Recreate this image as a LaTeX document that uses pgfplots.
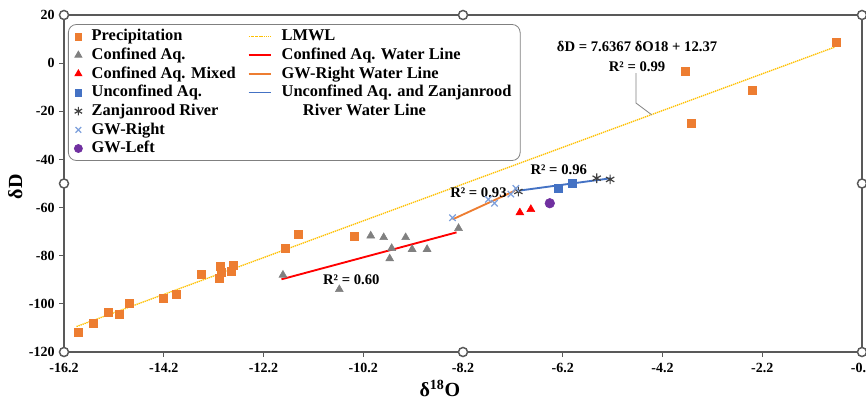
\documentclass[border=0pt]{standalone}
\usepackage{pgfplots}
\pgfplotsset{compat=1.18}
\usepackage{fontspec}
\setmainfont{Liberation Serif}

\definecolor{cPrec}{HTML}{ED7D31}
\definecolor{cConf}{HTML}{808080}
\definecolor{cMix}{HTML}{FF0000}
\definecolor{cUnc}{HTML}{4472C4}
\definecolor{cRiv}{HTML}{404040}
\definecolor{cGWR}{HTML}{7DA0DC}
\definecolor{cGWL}{HTML}{7030A0}
\definecolor{cLMWL}{HTML}{FFC000}
\definecolor{cAxis}{HTML}{595959}

\begin{document}
\begin{tikzpicture}[font=\bfseries]
  \begin{axis}[
      at={(0,0)}, anchor=south west,
      scale only axis,
      width=598.5pt, height=252.75pt,
      xmin=-16.2, xmax=-0.2, ymin=-120, ymax=20,
      xtick={-16.2,-14.2,-12.2,-10.2,-8.2,-6.2,-4.2,-2.2,-0.2},
      xticklabels={-16.2,-14.2,-12.2,-10.2,-8.2,-6.2,-4.2,-2.2,-0.2},
      ytick={-120,-100,-80,-60,-40,-20,0,20},
      yticklabels={-120,-100,-80,-60,-40,-20,0,20},
      tick align=outside, tick pos=left,
      major tick length=3.5pt,
      axis line style={draw=cAxis, line width=1.4pt},
      tick style={draw=cAxis, line width=0.8pt},
      ticklabel style={font=\bfseries\fontsize{10.5}{12}\selectfont},
      xticklabel style={yshift=-1.5pt},
      clip=false,
      xlabel={δ\textsuperscript{18}O},
      ylabel={δD},
      every axis x label/.style={at={(axis description cs:0.471,-0.107)}, anchor=center,
        font=\bfseries\fontsize{15}{17}\selectfont},
      every axis y label/.style={at={(axis description cs:-0.061,0.49)}, rotate=90, anchor=center,
        font=\bfseries\fontsize{15}{17}\selectfont},
      legend columns=2,
      legend cell align=left,
      legend style={
        at={(rel axis cs:0.005,0.973)}, anchor=north west,
        draw=gray, line width=0.6pt, rounded corners=6pt,
        font=\bfseries\fontsize{12.3}{14}\selectfont,
        inner xsep=4.5pt,
        row sep=0pt,
        nodes={inner ysep=1.2pt, text height=9pt, text depth=2.6pt},
        /tikz/every odd column/.append style={column sep=5pt},
        /tikz/every even column/.append style={column sep=7pt}
      },
    ]
    % precipitation
    \addplot[only marks, mark=square*, mark size=3pt, color=cPrec, forget plot] coordinates {
      (-15.91,-111.7) (-15.62,-108.2) (-15.32,-103.5) (-15.10,-104.5) (-14.89,-99.6)
      (-14.21,-97.7) (-13.94,-96.0) (-13.44,-87.6) (-13.07,-84.2) (-13.04,-86.9)
      (-13.08,-89.4) (-12.81,-83.9) (-12.85,-86.4) (-11.77,-76.9) (-11.50,-71.0)
      (-10.39,-71.9) (-3.74,-3.5) (-3.62,-25.0) (-2.41,-11.4) (-0.71,8.5)
    };
    % confined aquifer
    \addplot[only marks, mark=triangle*, mark size=3.4pt, color=cConf, forget plot] coordinates {
      (-11.81,-88.0) (-10.68,-94.0) (-10.05,-71.7) (-9.79,-72.4) (-9.35,-72.4)
      (-9.63,-76.9) (-9.67,-81.2) (-9.22,-77.3) (-8.92,-77.3) (-8.29,-68.6)
    };
    % confined aquifer mixed
    \addplot[only marks, mark=triangle*, mark size=3.4pt, color=cMix, forget plot] coordinates {
      (-7.06,-62.1) (-6.84,-60.7)
    };
    % unconfined aquifer
    \addplot[only marks, mark=square*, mark size=3pt, color=cUnc, forget plot] coordinates {
      (-6.29,-52.0) (-6.01,-49.9)
    };
    % Zanjanrood river
    \addplot[only marks, mark=asterisk, mark size=3.6pt, line width=0.9pt, color=cRiv, forget plot] coordinates {
      (-7.09,-53.3) (-5.52,-47.8) (-5.25,-48.3)
    };
    % GW-Right
    \addplot[only marks, mark=x, mark size=3.4pt, line width=0.9pt, color=cGWR, forget plot] coordinates {
      (-8.41,-64.2) (-7.69,-56.6) (-7.57,-58.2) (-7.24,-54.4) (-7.14,-52.0)
    };
    % GW-Left
    \addplot[only marks, mark=*, mark size=3.6pt, color=cGWL, forget plot] coordinates {
      (-6.46,-58.2)
    };
    % water lines
    \addplot[cLMWL, line width=1pt, dash pattern=on 1pt off 0.6pt, forget plot] coordinates {
      (-15.95,-109.43) (-0.74,6.72)
    };
    \addplot[cMix, line width=1.4pt, forget plot] coordinates {
      (-11.84,-89.8) (-8.33,-70.3)
    };
    \addplot[cPrec, line width=1.4pt, forget plot] coordinates {
      (-8.41,-64.9) (-7.16,-53.0)
    };
    \addplot[cUnc, line width=1.4pt, forget plot] coordinates {
      (-7.09,-53.0) (-5.23,-47.8)
    };
    % selection handles
    \addplot[only marks, mark=*, mark size=3.4pt, mark options={fill=white, draw=cAxis, line width=1.1pt}, forget plot] coordinates {
      (-16.2,20) (-8.2,20) (-0.2,20) (-16.2,-50) (-0.2,-50) (-16.2,-120) (-8.2,-120) (-0.2,-120)
    };

    % legend, filled row by row
    \addlegendimage{only marks, mark=square*, mark size=2.6pt, color=cPrec}
    \addlegendentry{Precipitation}
    \addlegendimage{cLMWL, line width=1pt, dash pattern=on 1pt off 0.6pt}
    \addlegendentry{LMWL}
    \addlegendimage{only marks, mark=triangle*, mark size=3pt, color=cConf}
    \addlegendentry{Confined Aq.}
    \addlegendimage{cMix, line width=1.4pt}
    \addlegendentry{Confined Aq. Water Line}
    \addlegendimage{only marks, mark=triangle*, mark size=3pt, color=cMix}
    \addlegendentry{Confined Aq. Mixed}
    \addlegendimage{cPrec, line width=1.4pt}
    \addlegendentry{GW-Right Water Line}
    \addlegendimage{only marks, mark=square*, mark size=2.6pt, color=cUnc}
    \addlegendentry{Unconfined Aq.}
    \addlegendimage{cUnc, line width=1.4pt}
    \addlegendentry{Unconfined Aq. and Zanjanrood}
    \addlegendimage{only marks, mark=asterisk, mark size=3.2pt, line width=0.9pt, color=cRiv}
    \addlegendentry{Zanjanrood River}
    \addlegendimage{empty legend}
    \addlegendentry{\hspace*{16pt}River Water Line}
    \addlegendimage{only marks, mark=x, mark size=3pt, line width=0.9pt, color=cGWR}
    \addlegendentry{GW-Right}
    \addlegendimage{empty legend}
    \addlegendentry{}
    \addlegendimage{only marks, mark=*, mark size=3pt, color=cGWL}
    \addlegendentry{GW-Left}
    \addlegendimage{empty legend}
    \addlegendentry{}

    % annotations
    \node[align=center, font=\bfseries\fontsize{11}{15}\selectfont] at (axis cs:-4.71,2.8)
      {δD = 7.6367 δO18 + 12.37\\R² = 0.99};
    \draw[gray, line width=0.6pt] (axis cs:-4.73,-4.1) -- (axis cs:-4.73,-16.6) -- (axis cs:-4.42,-21.4);
    \node[font=\bfseries\fontsize{11}{13}\selectfont] at (axis cs:-10.44,-90.1) {R² = 0.60};
    \node[font=\bfseries\fontsize{11}{13}\selectfont] at (axis cs:-7.89,-53.9) {R² = 0.93};
    \node[font=\bfseries\fontsize{11}{13}\selectfont] at (axis cs:-6.28,-44.4) {R² = 0.96};
  \end{axis}
  \pgfresetboundingbox
  \path[use as bounding box] (-48pt,-36.75pt) rectangle (601.5pt,264pt);
\end{tikzpicture}
\end{document}
